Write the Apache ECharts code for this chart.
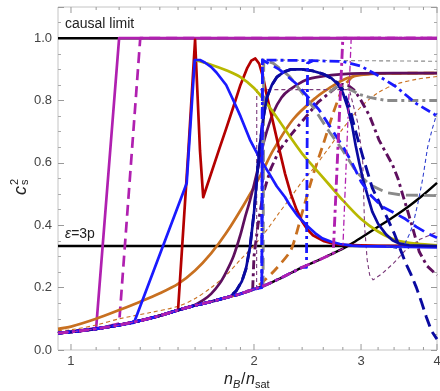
<!DOCTYPE html>
<html><head><meta charset="utf-8">
<script src="https://cdn.jsdelivr.net/npm/echarts@6/dist/echarts.min.js"></script>
<style>html,body{margin:0;padding:0;background:#fff}#c{width:440px;height:391px}</style>
</head><body><div id="c"></div>
<script>
// ---- axis ticks ----
const xMajorTicks = [1, 2, 3, 4];
const xMinorTicks = [1.1,1.2,1.3,1.4,1.5,1.6,1.7,1.8,1.9,2.2,2.4,2.6,2.8,3.2,3.4,3.6,3.8];

// ---- curves: [n_B/n_sat, c_s^2] ----
const baseCurve = [[0.952,0.054],[1.0,0.058],[1.1,0.068],[1.2,0.08],[1.3,0.094],[1.4,0.11],[1.5,0.128],[1.6,0.143],[1.7,0.155],[1.8,0.168],[1.9,0.18],[2.0,0.195],[2.1,0.21],[2.2,0.228],[2.3,0.247],[2.4,0.265],[2.5,0.28],[2.6,0.295],[2.7,0.31],[2.8,0.325],[2.9,0.342],[3.0,0.36],[3.2,0.395],[3.4,0.428],[3.6,0.462],[3.8,0.498],[4.0,0.536]];
const conformalLine = [[0.952,0.3333],[4,0.3333]];
const causalLine = [[0.952,1.0],[4,1.0]];

const orangeSolid = [[0.952,0.068],[1.0,0.075],[1.1,0.1],[1.2,0.128],[1.3,0.155],[1.4,0.182],[1.5,0.212],[1.6,0.255],[1.7,0.31],[1.8,0.375],[1.93,0.47],[2.05,0.56],[2.15,0.64],[2.32,0.74],[2.53,0.81],[2.66,0.84],[2.83,0.87],[3.0,0.882],[3.3,0.887],[4,0.888]];
const orangeThin = [[0.952,0.062],[1.0,0.065],[1.1,0.08],[1.2,0.1],[1.35,0.12],[1.5,0.14],[1.6,0.165],[1.7,0.2],[1.8,0.24],[1.9,0.29],[2.0,0.335],[2.1,0.385],[2.2,0.44],[2.3,0.49],[2.4,0.54],[2.5,0.58],[2.66,0.65],[2.8,0.71],[3.0,0.78],[3.2,0.825],[3.42,0.852],[3.7,0.868],[4,0.877]];
const orangeDashed = [[2.0,0.195],[2.15,0.25],[2.3,0.32],[2.4,0.44],[2.5,0.56],[2.6,0.66],[2.7,0.76],[2.8,0.84],[2.9,0.875],[3.0,0.884],[3.3,0.887],[4,0.888]];
const purpleSolid = [[1.58,0.14],[1.65,0.16],[1.7,0.18],[1.757,0.214],[1.8,0.25],[1.85,0.3],[1.9,0.37],[1.93,0.42],[1.97,0.48],[2.0,0.53],[2.04,0.6],[2.08,0.674],[2.15,0.76],[2.22,0.81],[2.29,0.835],[2.44,0.867],[2.6,0.878],[2.77,0.884],[3.0,0.887],[4,0.888]];
const purpleDashDot = [[1.99,0.195],[2.0,0.3],[2.03,0.4],[2.07,0.5],[2.13,0.58],[2.2,0.64],[2.3,0.69],[2.44,0.75],[2.55,0.795],[2.66,0.824],[2.74,0.845],[2.8,0.852],[2.86,0.848],[2.92,0.834],[2.98,0.81],[3.04,0.78],[3.1,0.75],[3.21,0.674],[3.28,0.64],[3.38,0.594],[3.45,0.55],[3.51,0.5],[3.58,0.445],[3.65,0.39],[3.74,0.315],[3.85,0.27],[4,0.24]];
const purpleThin = [[2.02,0.2],[2.021,0.835],[2.87,0.835],[2.97,0.72],[3.02,0.6],[3.04,0.4],[3.07,0.29],[3.1,0.24],[3.14,0.225],[3.25,0.245],[3.4,0.28],[3.55,0.32],[3.75,0.355],[4,0.378]];
const redSolid = [[1.5,0.128],[1.56,0.64],[1.6,0.995],[1.63,0.64],[1.65,0.49],[1.757,0.65],[1.8,0.71],[1.85,0.78],[1.9,0.85],[1.95,0.905],[1.98,0.928],[2.01,0.935],[2.04,0.918],[2.07,0.875],[2.1,0.815],[2.15,0.73],[2.2,0.645],[2.25,0.565],[2.3,0.5],[2.35,0.45],[2.4,0.412],[2.45,0.386],[2.5,0.368],[2.6,0.35],[2.7,0.341],[2.8,0.337],[3.2,0.334],[4,0.333]];
const oliveSolid = [[1.6,0.93],[1.7,0.915],[1.8,0.897],[1.9,0.875],[2.0,0.84],[2.1,0.79],[2.2,0.735],[2.3,0.68],[2.4,0.63],[2.5,0.59],[2.66,0.53],[2.8,0.48],[3.0,0.42],[3.2,0.38],[3.42,0.353],[3.7,0.341],[4,0.336]];
const blueSolid = [[1.27,0.088],[1.55,0.535],[1.564,0.653],[1.598,0.93],[1.63,0.93],[1.66,0.922],[1.7,0.908],[1.735,0.89],[1.8,0.85],[1.85,0.80],[1.9,0.75],[1.97,0.674],[2.05,0.61],[2.12,0.565],[2.18,0.525],[2.25,0.49],[2.29,0.465],[2.36,0.43],[2.44,0.40],[2.52,0.375],[2.59,0.358],[2.68,0.347],[2.77,0.34],[2.9,0.335],[3.0,0.333],[4,0.329]];
const navySolid = [[1.83,0.172],[1.87,0.19],[1.91,0.22],[1.94,0.26],[1.97,0.33],[2.0,0.44],[2.02,0.54],[2.04,0.64],[2.07,0.74],[2.1,0.81],[2.14,0.85],[2.18,0.875],[2.24,0.892],[2.3,0.9],[2.4,0.9],[2.5,0.895],[2.6,0.885],[2.68,0.872],[2.74,0.855],[2.8,0.825],[2.85,0.78],[2.9,0.72],[2.94,0.655],[2.98,0.6],[3.02,0.55],[3.08,0.49],[3.13,0.444],[3.2,0.405],[3.3,0.37],[3.38,0.352],[3.46,0.342],[3.6,0.336],[4,0.333]];
const navyDashed = [[1.83,0.172],[1.87,0.19],[1.91,0.22],[1.94,0.26],[1.97,0.33],[2.0,0.44],[2.02,0.54],[2.04,0.64],[2.07,0.74],[2.1,0.81],[2.14,0.85],[2.18,0.875],[2.24,0.892],[2.3,0.9],[2.4,0.9],[2.5,0.895],[2.6,0.885],[2.68,0.872],[2.74,0.858],[2.8,0.835],[2.87,0.78],[2.94,0.7],[3.02,0.62],[3.13,0.52],[3.22,0.47],[3.3,0.43],[3.4,0.375],[3.47,0.33],[3.55,0.28],[3.62,0.245],[3.7,0.2],[3.77,0.155],[3.84,0.107],[3.92,0.06],[4,0.035]];
const blueLongDash = [[2.06,0.2],[2.065,0.93],[2.2,0.9],[2.35,0.853],[2.56,0.77],[2.8,0.653],[2.9,0.6],[3.0,0.54],[3.1,0.5],[3.25,0.46],[3.4,0.44],[3.55,0.42],[3.7,0.395],[3.85,0.375],[4,0.36]];
const blueDashDotA = [[2.06,0.2],[2.065,0.93],[2.5,0.928],[2.8,0.925],[3.0,0.91],[3.2,0.88],[3.42,0.845],[3.7,0.79],[3.93,0.76],[4,0.75]];
const blueDashDotB = [[2.44,0.265],[2.45,0.92],[2.5,0.928]];
const blueThin = [[3.3,0.333],[3.45,0.325],[3.52,0.33],[3.6,0.37],[3.65,0.4],[3.72,0.47],[3.79,0.55],[3.86,0.65],[3.93,0.71],[4,0.76]];
const greyThin = [[2.07,0.2],[2.075,0.93],[4,0.926]];
const greyDashed = [[2.07,0.2],[2.075,0.93],[2.15,0.92],[2.29,0.877],[2.5,0.78],[2.66,0.7],[2.8,0.64],[2.95,0.57],[3.1,0.53],[3.3,0.505],[3.5,0.497],[4,0.495]];
const greyDashDot = [[2.66,0.826],[2.75,0.848],[2.85,0.84],[2.98,0.82],[3.1,0.81],[3.3,0.8],[4,0.8]];
const magentaSolid = [[1.1,0.07],[1.2,1.0],[4,1.0]];
const magentaDashed = [[1.2,0.085],[1.3,1.0],[4,1.0]];
const magentaDashDot = [[2.71,0.312],[2.8,1.0],[4,1.0]];
const magentaDashDotThin = [[2.81,0.327],[2.89,1.0],[4,1.0]];

function withBase(pts){ const lim = pts[0][0]; return baseCurve.filter(p => p[0] < lim).concat(pts); }

const C = {black:'#000', mag:'#b020b0', red:'#b40000', blue:'#1a1aff', navy:'#0a0aa0', olive:'#b8b800', orange:'#c87020', purple:'#5e0f5e', purpleThin:'#7b3a7b', grey:'#8a8a8a'};
const FONT = '"Liberation Sans", Arial, sans-serif';
const W = 2.7;

function L(data, color, width, type, smooth){
  return {type:'line', data:data, showSymbol:false, symbol:'none', smooth:smooth||false, silent:true,
    lineStyle:{color:color, width:width, type:type||'solid', cap:'butt', join:'round'}, z:2};
}

const series = [
  L(baseCurve, C.black, 2.4, 'solid', 0.3),
  L(conformalLine, C.black, 2.4),
  L(causalLine, C.black, 2.4),
  L(withBase(magentaSolid), C.mag, W),
  L(withBase(magentaDashed), C.mag, W, [11,6]),
  L(orangeThin, C.orange, 1.1, [4,3], 0.3),
  L(orangeSolid, C.orange, W, 'solid', 0.3),
  L(withBase(orangeDashed), C.orange, 2.8, [10,6], 0.2),
  L(withBase(purpleSolid), C.purple, W, 'solid', 0.3),
  L(withBase(purpleDashDot), C.purple, 2.9, [9,4,3,4]),
  L(withBase(purpleThin), C.purpleThin, 1.1, [4,3]),
  L(withBase(redSolid), C.red, W),
  L(oliveSolid, C.olive, W, 'solid', 0.3),
  L(withBase(blueSolid), C.blue, W),
  L(greyThin, C.grey, 1.1, [4,3]),
  L(greyDashed, C.grey, 2.9, [12,6]),
  L(greyDashDot, C.grey, 2.9, [10,4,3,4]),
  L(withBase(navyDashed), C.navy, 2.9, [12,6]),
  L(withBase(navySolid), C.navy, W),
  L(withBase(blueLongDash), C.blue, 2.8, [12,6]),
  L(withBase(blueDashDotA), C.blue, 2.8, [10,4,3,4]),
  L(withBase(blueDashDotB), C.blue, 2.8, [10,4,3,4]),
  L(blueThin, '#3040d0', 1.1, [4,3]),
  L(withBase(magentaDashDot), C.mag, 2.9, [10,4,3,4]),
  L(withBase(magentaDashDotThin), C.mag, 1.3, [6,3,2,3])
];

// x-axis ticks and labels drawn through the log scale
const tickData = xMajorTicks.map(v => [v, 1]).concat(xMinorTicks.map(v => [v, 0]));
series.push({
  type:'custom', clip:false, silent:true, z:5, data:tickData,
  renderItem:function(params, api){
    const v = api.value(0), major = api.value(1) === 1;
    const pb = api.coord([v, 0]), pt = api.coord([v, 1.1]);
    const len = major ? 6 : 3;
    const st = {stroke:'#999', lineWidth:1};
    const ch = [
      {type:'line', shape:{x1:pb[0], y1:pb[1], x2:pb[0], y2:pb[1]-len}, style:st},
      {type:'line', shape:{x1:pt[0], y1:pt[1], x2:pt[0], y2:pt[1]+len}, style:st}
    ];
    if (major) ch.push({type:'text', x:pb[0], y:pb[1]+5, style:{text:String(v), font:'13px '+FONT, fill:'#444', align:'center', verticalAlign:'top', textAlign:'center', textVerticalAlign:'top'}});
    return {type:'group', children:ch};
  }
});

const yAxisBase = {type:'value', min:0, max:1.1, interval:0.2, axisLine:{show:false}, splitLine:{show:false},
  axisTick:{show:true, inside:true, length:6, lineStyle:{color:'#999'}},
  minorTick:{show:true, inside:true, splitNumber:4, length:3, lineStyle:{color:'#aaa'}}};

const chart = echarts.init(document.getElementById('c'), null, {renderer:'canvas'});
chart.setOption({
  animation:false,
  backgroundColor:'#fff',
  grid:{left:58, right:3, top:7, bottom:41, show:true, borderColor:'#c4c4c4', borderWidth:1, backgroundColor:'transparent'},
  xAxis:{type:'log', logBase:10, min:0.952, max:4, axisLine:{show:false}, axisTick:{show:false}, axisLabel:{show:false}, splitLine:{show:false}, minorTick:{show:false}, minorSplitLine:{show:false}},
  yAxis:[
    Object.assign({}, yAxisBase, {position:'left', axisLabel:{margin:6, fontSize:13, color:'#444', fontFamily:FONT, formatter:v => v > 1.05 ? '' : v.toFixed(1)}}),
    Object.assign({}, yAxisBase, {position:'right', axisLabel:{show:false}})
  ],
  series:series,
  graphic:[
    {type:'text', left:65, top:17, style:{text:'causal limit', font:'14px '+FONT, fill:'#222'}},
    {type:'text', left:65, top:227, style:{text:'{e|ε}=3p', font:'14px '+FONT, fill:'#222', rich:{e:{fontStyle:'italic', fontSize:14, fontFamily:FONT, fill:'#222'}}}},
    {type:'group', x:25, y:186, rotation:Math.PI/2, children:[
      {type:'text', x:0, y:-4, style:{text:'c', font:'italic 18px '+FONT, fill:'#222', align:'right', verticalAlign:'middle', textAlign:'right', textVerticalAlign:'middle'}},
      {type:'text', x:1, y:-10, style:{text:'2', font:'11px '+FONT, fill:'#222', align:'left', verticalAlign:'middle', textAlign:'left', textVerticalAlign:'middle'}},
      {type:'text', x:1, y:0, style:{text:'s', font:'11px '+FONT, fill:'#222', align:'left', verticalAlign:'middle', textAlign:'left', textVerticalAlign:'middle'}}
    ]},
    {type:'group', x:224, y:380, children:[
      {type:'text', x:0, y:0, style:{text:'n', font:'italic 16px '+FONT, fill:'#222', verticalAlign:'middle', textVerticalAlign:'middle'}},
      {type:'text', x:9, y:5, style:{text:'B', font:'italic 11px '+FONT, fill:'#222', verticalAlign:'middle', textVerticalAlign:'middle'}},
      {type:'text', x:17, y:0, style:{text:'/', font:'16px '+FONT, fill:'#222', verticalAlign:'middle', textVerticalAlign:'middle'}},
      {type:'text', x:22, y:0, style:{text:'n', font:'italic 16px '+FONT, fill:'#222', verticalAlign:'middle', textVerticalAlign:'middle'}},
      {type:'text', x:31, y:5, style:{text:'sat', font:'11px '+FONT, fill:'#222', verticalAlign:'middle', textVerticalAlign:'middle'}}
    ]}
  ]
});
</script></body></html>
